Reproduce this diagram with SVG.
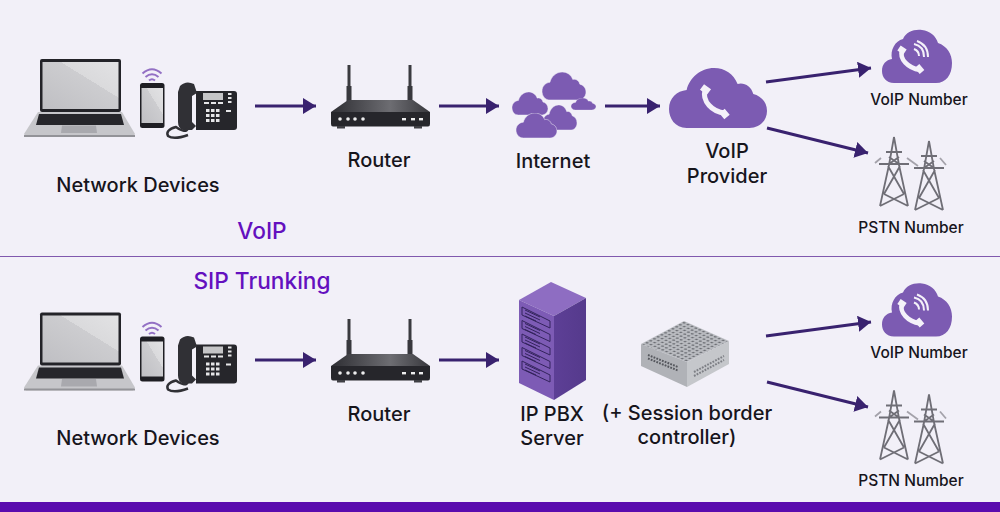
<svg xmlns="http://www.w3.org/2000/svg" width="1000" height="512" viewBox="0 0 1000 512">
<style>
text{font-family:"Inter","Noto Sans",sans-serif;font-weight:500;fill:#17151c;text-anchor:middle}
.l{font-size:20px}
.s{font-size:15.500px;font-weight:500}
.h{font-size:22.700px;fill:#6410bf}
.c{stroke:#39226f;stroke-width:3;fill:none;marker-end:url(#arrow)}
.wifi{fill:none;stroke:#9370c4;stroke-width:2}
.hs{fill:none;stroke:#f4f1f9;stroke-linecap:butt}
.tw{fill:none;stroke:#6f6e76;stroke-width:1.800}
.key{fill:#e6e6e8}
</style>
<defs>
<marker id="arrow" markerUnits="userSpaceOnUse" markerWidth="13" markerHeight="16" refX="13" refY="8" orient="auto"><path d="M0 0L13 8L0 16Z" fill="#39226f"/></marker>
<linearGradient id="screen" x1="0" y1="1" x2="1" y2="0"><stop offset="0" stop-color="#bfbfc3"/><stop offset=".62" stop-color="#cdcdd0"/><stop offset=".62" stop-color="#dadadc"/><stop offset="1" stop-color="#e2e2e4"/></linearGradient>
<linearGradient id="rt" x1="0" y1="0" x2="1" y2="0"><stop offset="0" stop-color="#2e2e33"/><stop offset=".6" stop-color="#6d6d72"/><stop offset="1" stop-color="#38383d"/></linearGradient>
<linearGradient id="side" x1="0" y1="0" x2="1" y2="0"><stop offset="0" stop-color="#5d3f96"/><stop offset="1" stop-color="#553a8c"/></linearGradient>
<pattern id="holes" patternUnits="userSpaceOnUse" width="1" height="1" patternTransform="matrix(3.9,1.75,-3.7,2,684,321)"><circle cx=".5" cy=".5" r=".27" fill="#686a70"/></pattern>
<symbol id="cloud" viewBox="0 0 100 60" preserveAspectRatio="none"><path fill="#7c5bb2" d="M18 60C6 60 0 50 0 41C0 30 8 23 18 22C21 10 32 0 46 0C57 0 66 6 70 16C76 14 84 18 86 26C94 28 100 34 100 43C100 53 92 60 82 60Z"/></symbol>
<g id="devices">
<path d="M38 112H122L135 134L133 137H26L24 134Z" fill="#c6c6ca"/>
<path d="M39 114H121L124 125H36Z" fill="#26262b"/>
<path d="M62 125.500H96L97 133H61Z" fill="#a9a9ae"/>
<rect x="24" y="135" width="111" height="2" fill="#939398"/>
<rect x="40" y="59" width="81" height="53" rx="2" fill="#232328"/>
<rect x="42.500" y="62" width="76" height="47" fill="url(#screen)"/>
<rect x="140" y="83" width="24.500" height="45" rx="2.500" fill="#1e1e23"/>
<rect x="141.500" y="88" width="21.500" height="35" fill="url(#screen)"/>
<path class="wifi" d="M142.500 73.500Q152 65 161.500 73.500M145.500 77Q152 71.500 158.500 77M149 80.500Q152 78 155 80.500"/>
<path d="M196 91H234Q237 91 237 94V127Q237 130 234 130H196Z" fill="#26262b"/>
<path d="M180 86Q186 80 194 84L197 93L192 96V122L196 126L192 130H183Q178 128 178 122V92Z" fill="#303035"/>
<rect x="203" y="93" width="20" height="7" fill="#c5c5c7"/>
<g class="key"><rect x="204" y="102" width="5" height="2"/><rect x="211" y="102" width="5" height="2"/><rect x="218" y="102" width="5" height="2"/><rect x="228" y="93" width="3.500" height="2"/><rect x="228" y="97" width="3.500" height="2"/><rect x="228" y="101" width="3.500" height="2"/><rect x="206" y="109" width="3.500" height="3"/><rect x="211" y="109" width="3.500" height="3"/><rect x="216" y="109" width="3.500" height="3"/><rect x="206" y="114" width="3.500" height="3"/><rect x="211" y="114" width="3.500" height="3"/><rect x="216" y="114" width="3.500" height="3"/><rect x="206" y="119" width="3.500" height="3"/><rect x="211" y="119" width="3.500" height="3"/><rect x="216" y="119" width="3.500" height="3"/><rect x="226" y="110" width="5" height="2"/></g>
<path d="M188 128Q186 134 176 127Q165 130 168 136Q174 140 188 135" fill="none" stroke="#303035" stroke-width="2.500"/>
</g>
<g id="router">
<rect x="347.500" y="65" width="3" height="24" fill="#3a3a3f"/><rect x="346.500" y="86" width="5" height="15" fill="#38383d"/>
<rect x="408.500" y="65" width="3" height="24" fill="#3a3a3f"/><rect x="407.500" y="86" width="5" height="15" fill="#38383d"/>
<path d="M348 100H413L430 112H331Z" fill="url(#rt)"/>
<path d="M331 112H430V124Q430 126.500 428 126.500H333Q331 126.500 331 124Z" fill="#26262b"/>
<rect x="337" y="126" width="8" height="2.500" fill="#3f3f44"/><rect x="414" y="126" width="8" height="2.500" fill="#3f3f44"/>
<g fill="#ededee"><circle cx="340" cy="119" r="1.800"/><circle cx="348" cy="119" r="1.800"/><circle cx="355" cy="119" r="1.800"/><circle cx="363" cy="119" r="1.800"/><rect x="402" y="118" width="4" height="2.400"/><rect x="411" y="118" width="4" height="2.400"/><rect x="419" y="118" width="4" height="2.400"/></g>
</g>
<g id="phonecloud">
<path fill="#7c5bb2" d="M894 83C886 83 882 77 882 71C882 64 886 60 892 59C890 50 895 41 903 39C906 32 914 29 922 30C930 31 936 36 938 43C947 46 952 54 952 63C952 75 946 83 936 83Z"/>
<path class="hs" stroke-width="4.500" d="M902 50C899 59 908 68 920 70"/>
<path class="hs" stroke-width="6" d="M899 48L905 52M917 66L922 72"/>
<path class="hs" stroke-width="2" d="M914 49Q919 51 919 56M914 44Q924 46 924 57M917 41Q928 45 928 57"/>
</g>
<g id="towers">
<g id="tw1"><path class="tw" d="M894 137L889 165L880 206M894 137L899 165L908 206M886 152H902M879 164H909M888 166L904 194M900 166L884 194M884 194L908 206M904 194L880 206M889 157L899 164M899 157L889 164"/></g>
<use href="#tw1" x="35" y="4"/>
<path class="tw" stroke-width=".7" d="M875 163L881 158M907 158L918 166M946 165L940 158" opacity=".6"/>
</g>
</defs>
<rect width="1000" height="512" fill="#f2f0f8"/>
<rect y="502" width="1000" height="10" fill="#5a0cae"/>
<rect y="256" width="1000" height="1" fill="#8058ae"/>
<g id="connectors">
<path class="c" d="M255 106H316"/><path class="c" d="M439 106H499"/><path class="c" d="M605 106H660"/>
<path class="c" d="M766 82L871 68"/><path class="c" d="M767 128L868 153"/>
<path class="c" d="M255 360H316"/><path class="c" d="M439 360H499"/>
<path class="c" d="M766 336L871 322"/><path class="c" d="M767 382L868 407"/>
</g>
<g id="net1"><use href="#devices"/><text class="l" x="138" y="192">Network Devices</text></g>
<g id="router1"><use href="#router"/><text class="l" x="379" y="167">Router</text></g>
<g id="internet">
<g stroke="#f2f0f8" stroke-width="1.200"><use href="#cloud" x="512" y="92" width="36" height="23"/><use href="#cloud" x="542" y="72" width="44" height="28"/><use href="#cloud" x="571" y="98" width="25" height="12"/><use href="#cloud" x="543" y="105" width="34" height="25"/><use href="#cloud" x="516" y="113" width="41" height="25"/></g>
<text class="l" x="553" y="168">Internet</text></g>
<g id="provider"><use href="#cloud" x="669" y="68" width="98" height="60"/>
<path class="hs" stroke-width="5" d="M705 90C702 101 712 112 725 113"/><path class="hs" stroke-width="7" d="M702 87L709 92M722 111L727 117"/>
<text class="l" x="727" y="158">VoIP</text><text class="l" x="727" y="183">Provider</text></g>
<g id="voip1"><use href="#phonecloud"/><text class="s" x="919" y="105">VoIP Number</text></g>
<g id="pstn1"><use href="#towers"/><text class="s" x="911" y="233">PSTN Number</text></g>
<text class="h" x="262" y="239">VoIP</text>
<text class="h" x="262" y="289">SIP Trunking</text>
<g id="net2"><use href="#devices" y="253.500"/><text class="l" x="138" y="445">Network Devices</text></g>
<g id="router2"><use href="#router" y="254"/><text class="l" x="379" y="421">Router</text></g>
<g id="pbx">
<path d="M551 282L586 298L554 316L519 300Z" fill="#8e6dc2"/>
<path d="M519 300L554 316V400L519 383Z" fill="#7d5bb5"/>
<path d="M554 316L586 298V380L554 400Z" fill="url(#side)"/>
<g id="slot"><path d="M522 307L550 321V328L522 315Z" fill="none" stroke="#33235c" stroke-width="1"/><path d="M525 310L540 317M525 313L540 320M525 316L536 321" stroke="#33235c" stroke-width="1"/></g>
<use href="#slot" y="13.500"/><use href="#slot" y="27"/><use href="#slot" y="40.500"/><use href="#slot" y="54"/>
<text class="l" x="552" y="421">IP PBX</text><text class="l" x="552" y="445">Server</text></g>
<g id="sbc">
<path d="M684 321L729 341L687 362L641 344Z" fill="#b9bbc0"/>
<path d="M684 321L729 341L687 362L641 344Z" fill="url(#holes)"/>
<path d="M641 344L687 362V387L641 366Z" fill="#b0b2b7"/>
<path d="M687 362L729 341V364L687 387Z" fill="#c5c7cb"/>
<path d="M648 355L678 367M648 358.500L678 370.500" stroke="#55575d" stroke-width="2" stroke-dasharray="1.800 1.200"/>
<path d="M694 372L724 356M694 376L724 360" stroke="#7d7f85" stroke-width="2" stroke-dasharray="1.800 1.200"/>
<text class="l" x="687" y="420">(+ Session border</text><text class="l" x="687" y="444">controller)</text></g>
<g id="voip2"><use href="#phonecloud" y="253.500"/><text class="s" x="919" y="358">VoIP Number</text></g>
<g id="pstn2"><use href="#towers" y="253.500"/><text class="s" x="911" y="486">PSTN Number</text></g>
</svg>
